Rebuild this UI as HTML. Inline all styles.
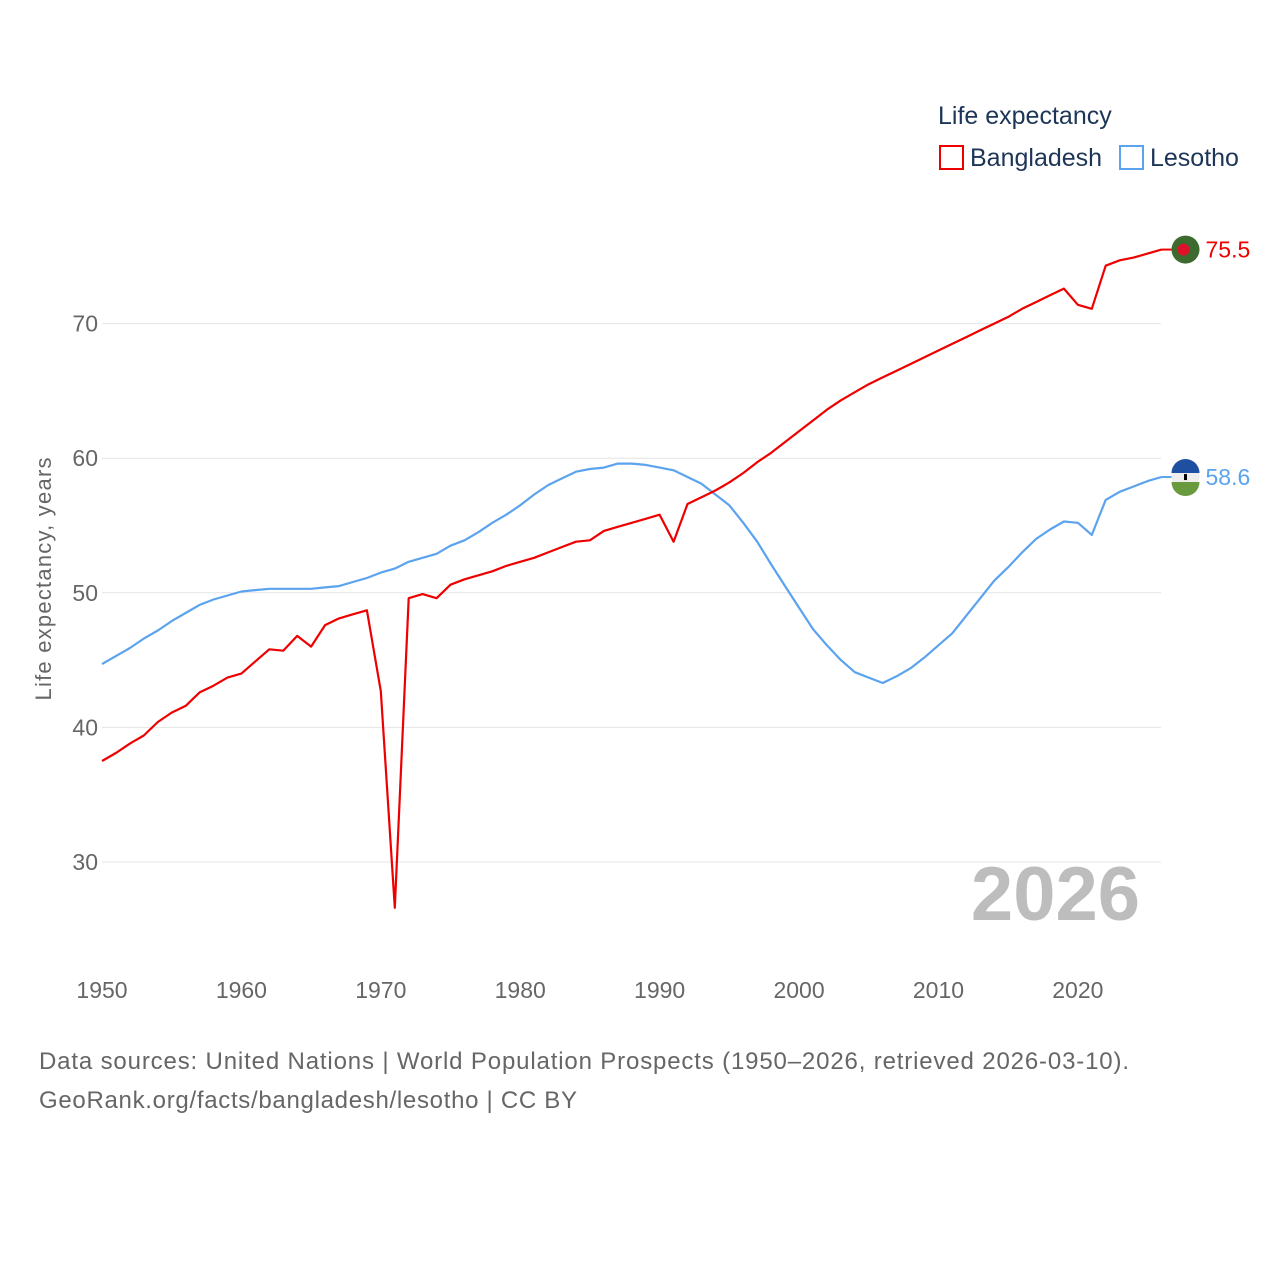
<!DOCTYPE html>
<html><head><meta charset="utf-8"><style>
html,body{margin:0;padding:0;background:#fff;width:1280px;height:1280px;overflow:hidden;font-family:"Liberation Sans",sans-serif}
svg text{font-family:"Liberation Sans",sans-serif}
</style></head><body>
<svg id="chart" width="1280" height="1280" viewBox="0 0 1280 1280">
<g id="grid"></g>
<g id="yticks"></g>
<g id="xticks"></g>
<text transform="translate(51,579) rotate(-90)" text-anchor="middle" font-size="22" fill="#666" textLength="243" lengthAdjust="spacing">Life expectancy, years</text>
<text x="1140" y="920" text-anchor="end" font-size="76" font-weight="bold" fill="#bdbdbd">2026</text>
<g id="series"></g>
<g>
<text x="938" y="124" font-size="25" fill="#1d3557">Life expectancy</text>
<rect x="940" y="146" width="23" height="23" fill="none" stroke="#ee0000" stroke-width="2"/>
<text x="970" y="166" font-size="25" fill="#1d3557">Bangladesh</text>
<rect x="1120" y="146" width="23" height="23" fill="none" stroke="#5ba3ee" stroke-width="2"/>
<text x="1150" y="166" font-size="25" fill="#1d3557">Lesotho</text>
</g>
<text x="39" y="1069" font-size="24" fill="#666" textLength="1090" lengthAdjust="spacing">Data sources: United Nations | World Population Prospects (1950–2026, retrieved 2026-03-10).</text>
<text x="39" y="1108" font-size="24" fill="#666" textLength="538" lengthAdjust="spacing">GeoRank.org/facts/bangladesh/lesotho | CC BY</text>
</svg>
<script>
const years=[];for(let y=1950;y<=2026;y++)years.push(y);
const bangladesh=[37.5,38.1,38.8,39.4,40.4,41.1,41.6,42.6,43.1,43.7,44.0,44.9,45.8,45.7,46.8,46.0,47.6,48.1,48.4,48.7,42.7,26.6,49.6,49.9,49.6,50.6,51.0,51.3,51.6,52.0,52.3,52.6,53.0,53.4,53.8,53.9,54.6,54.9,55.2,55.5,55.8,53.8,56.6,57.1,57.6,58.2,58.9,59.7,60.4,61.2,62.0,62.8,63.6,64.3,64.9,65.5,66.0,66.5,67.0,67.5,68.0,68.5,69.0,69.5,70.0,70.5,71.1,71.6,72.1,72.6,71.4,71.1,74.3,74.7,74.9,75.2,75.5];
const lesotho=[44.7,45.3,45.9,46.6,47.2,47.9,48.5,49.1,49.5,49.8,50.1,50.2,50.3,50.3,50.3,50.3,50.4,50.5,50.8,51.1,51.5,51.8,52.3,52.6,52.9,53.5,53.9,54.5,55.2,55.8,56.5,57.3,58.0,58.5,59.0,59.2,59.3,59.6,59.6,59.5,59.3,59.1,58.6,58.1,57.3,56.5,55.2,53.8,52.1,50.5,48.9,47.3,46.1,45.0,44.1,43.7,43.3,43.8,44.4,45.2,46.1,47.0,48.3,49.6,50.9,51.9,53.0,54.0,54.7,55.3,55.2,54.3,56.9,57.5,57.9,58.3,58.6];
const yTicks=[30,40,50,60,70];
const xTicks=[1950,1960,1970,1980,1990,2000,2010,2020];
const NS="http://www.w3.org/2000/svg";
const X=v=>102+(v-1950)*(1161.5-102)/76;
const Y=v=>862-(v-30)*13.46;
function mk(t,a,p){const e=document.createElementNS(NS,t);for(const k in a)e.setAttribute(k,a[k]);p.appendChild(e);return e;}
const grid=document.getElementById('grid'),yt=document.getElementById('yticks'),xt=document.getElementById('xticks'),ser=document.getElementById('series');
yTicks.forEach(v=>{
 const l=mk('line',{x1:102,x2:1161,y1:Y(v),y2:Y(v),stroke:'#e4e4e4','stroke-width':1},grid);
 
 
 const t=mk('text',{x:98,y:Y(v)+8,'text-anchor':'end','font-size':23,fill:'#666'},yt);
 t.textContent=v;
 
 
});
xTicks.forEach(v=>{
 const t=mk('text',{x:X(v),y:998,'text-anchor':'middle','font-size':23,fill:'#666'},xt);
 t.textContent=v;
 
 
});
function line(vals,color,name){
 const d=vals.map((v,i)=>(i?'L':'M')+X(years[i]).toFixed(1)+','+Y(v).toFixed(1)).join('');
 const p=mk('path',{d:d,fill:'none',stroke:color,'stroke-width':2.2,'stroke-linejoin':'round'},ser);
 
 
 const last=vals[vals.length-1],cx=X(years[years.length-1])+24,cy=Y(last);
 const l=mk('line',{x1:X(years[years.length-1]),x2:cx-14,y1:cy,y2:cy,stroke:color,'stroke-width':2},ser);
 
 
 const g=mk('g',{},ser);
 
 
 if(name==='bangladesh'){
  mk('circle',{cx:cx,cy:cy,r:14,fill:'#3d6b2f'},g);
  mk('circle',{cx:cx-2,cy:cy,r:6,fill:'#e0102a'},g);
 }else{
  mk('circle',{cx:cx,cy:cy,r:14,fill:'#eee'},g);
  mk('path',{d:`M${cx-14},${cy-4}A14,14 0 0 1 ${cx+14},${cy-4}Z`,fill:'#1f4fa0'},g);
  mk('path',{d:`M${cx-14},${cy+5}A14,14 0 0 0 ${cx+14},${cy+5}Z`,fill:'#6a9a3e'},g);
  mk('rect',{x:cx-1.5,y:cy-3,width:3,height:6,fill:'#000'},g);
 }
 const t=mk('text',{x:cx+20,y:cy+8,'font-size':23,fill:color},ser);
 t.textContent=last.toFixed(1);
 
 
}
line(lesotho,'#5ba3ee','lesotho');
line(bangladesh,'#ee0000','bangladesh');
</script>
</body></html>
